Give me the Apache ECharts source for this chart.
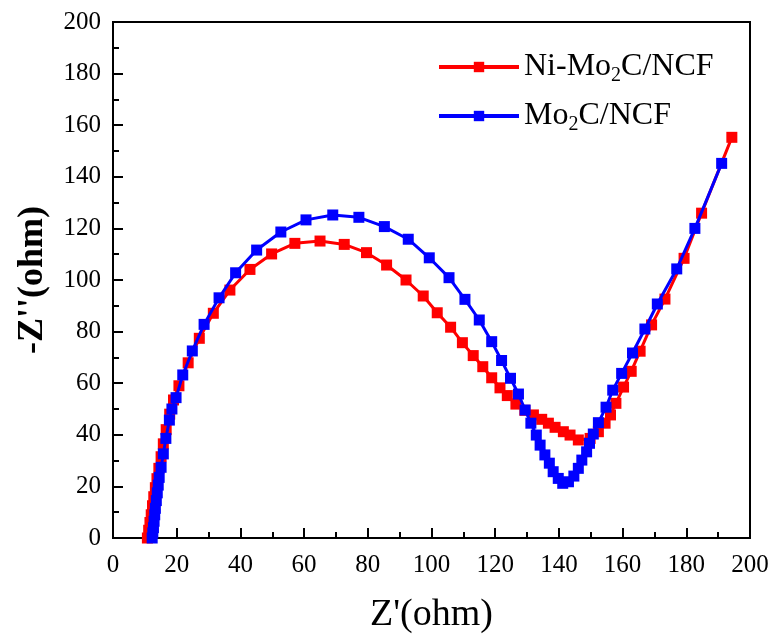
<!DOCTYPE html>
<html>
<head>
<meta charset="utf-8">
<script src="https://cdn.jsdelivr.net/npm/echarts@6/dist/echarts.min.js"></script>
<style>
html,body{margin:0;padding:0;background:#fff;}
#chart{width:776px;height:643px;}
</style>
</head>
<body>
<div id="chart"></div>
<script>
// Series names
const seriesNames = ['Ni-Mo2C/NCF', 'Mo2C/NCF'];
const seriesLabels = ['Ni-Mo{sub|2}C/NCF', 'Mo{sub|2}C/NCF'];
const seriesColors = ['#ff0000', '#0000ff'];

// Ni-Mo2C/NCF: [Z', -Z'']
const niMo2C = [
  [10.8,0],[11.2,3],[11.6,6],[12.0,9],[12.4,12.5],[12.8,16],[13.3,19.5],[13.8,23],
  [14.4,27],[15.1,31.5],[15.8,36.5],[16.7,42],[17.8,48],[19.0,53.5],[20.7,59],
  [23.6,67.9],[27.1,77.4],[31.5,87.1],[36.7,96.1],[43.0,104.1],[49.8,110.1],
  [57.1,114.2],[65.0,115.1],[72.6,113.8],[79.6,110.6],[85.9,105.8],[92.0,100.0],
  [97.4,93.8],[101.8,87.3],[106.0,81.7],[109.7,75.7],[113.1,70.7],[116.1,66.4],
  [118.9,62.1],[121.5,58.2],[123.8,55.2],[126.5,51.9],[129.3,49.5],[132.0,47.7],
  [134.6,46.0],[136.7,44.5],[138.8,42.9],[141.4,41.2],[143.5,39.9],[146.1,38.0],
  [149.8,38.6],[152.4,41.2],[154.5,44.5],[156.2,47.7],[157.9,52.2],[160.3,58.5],
  [162.7,64.6],[165.5,72.4],[169.1,82.6],[173.3,92.6],[179.3,108.4],[184.8,125.9],
  [194.3,155.3]
];

// Mo2C/NCF: [Z', -Z'']
const mo2C = [
  [12.3,0],[12.5,2],[12.7,4],[12.9,6.5],[13.1,9],[13.3,11.5],[13.6,14.5],[13.9,17.5],
  [14.2,20.5],[14.5,23.5],[15.1,27.4],[15.8,32.6],[16.6,38.6],[17.7,45.7],[18.5,50],
  [19.8,54.4],[21.9,63.2],[24.9,72.5],[28.6,82.8],[33.3,93.1],[38.5,102.8],[45.1,111.6],
  [52.7,118.6],[60.6,123.3],[69.0,125.2],[77.2,124.3],[85.2,120.7],[92.7,115.8],
  [99.3,108.6],[105.5,100.9],[110.5,92.5],[115.0,84.5],[118.9,76.1],[122.0,68.8],
  [124.8,61.9],[127.3,55.8],[129.4,49.6],[131.2,44.5],[132.9,39.9],[134.1,36.0],
  [135.6,32.2],[137.0,29.0],[138.2,25.7],[139.8,23.1],[141.2,21.2],[143.0,21.8],
  [144.7,24.0],[146.1,27.0],[147.2,30.2],[148.7,33.4],[149.6,36.7],[150.8,40.3],
  [152.4,44.7],[154.8,50.7],[156.9,57.3],[159.7,63.8],[163.1,71.7],[167.0,81.0],
  [170.9,90.7],[177.0,104.3],[182.7,120.0],[191.1,145.2]
];

// Axis settings
const xRange = [0, 200];
const yRange = [0, 200];
const tickStep = 20;
const xTitle = "Z'(ohm)";
const yTitle = "-Z''(ohm)";

const FONT = '"Liberation Serif", "Times New Roman", serif';

const chart = echarts.init(document.getElementById('chart'), null, {renderer: 'canvas'});

function axisCommon() {
  return {
    axisLine: {show: true, onZero: false, lineStyle: {color: '#000', width: 2}},
    axisTick: {show: true, inside: true, length: 10, lineStyle: {color: '#000', width: 2}},
    minorTick: {show: true, splitNumber: 2, length: 6, lineStyle: {color: '#000', width: 2}},
    splitLine: {show: false},
    axisLabel: {color: '#000', fontFamily: FONT, fontSize: 25}
  };
}

const option = {
  animation: false,
  backgroundColor: '#fff',
  grid: {left: 113, right: 26, top: 22, bottom: 105, show: true, borderColor: '#000', borderWidth: 2, backgroundColor: 'transparent'},
  legend: {
    left: 432, top: 46, orient: 'vertical',
    itemWidth: 80, itemHeight: 13, itemGap: 14,
    data: seriesNames,
    lineStyle: {width: 4},
    formatter: function (name) { return seriesLabels[seriesNames.indexOf(name)]; },
    textStyle: {
      color: '#000', fontFamily: FONT, fontSize: 32,
      rich: {sub: {fontFamily: FONT, fontSize: 20, color: '#000', padding: [18, 0, 0, 0]}}
    }
  },
  xAxis: Object.assign(axisCommon(), {
    type: 'value', min: xRange[0], max: xRange[1], interval: tickStep,
    name: xTitle, nameLocation: 'middle', nameGap: 58,
    nameTextStyle: {color: '#000', fontFamily: FONT, fontSize: 38},
    axisLabel: {color: '#000', fontFamily: FONT, fontSize: 25, margin: 15}
  }),
  yAxis: Object.assign(axisCommon(), {
    type: 'value', min: yRange[0], max: yRange[1], interval: tickStep,
    name: yTitle, nameLocation: 'middle', nameGap: 62, nameRotate: 90,
    nameTextStyle: {color: '#000', fontFamily: FONT, fontSize: 36, fontWeight: 'bold'},
    axisLabel: {color: '#000', fontFamily: FONT, fontSize: 25, margin: 12}
  }),
  series: [
    {
      name: seriesNames[0], type: 'line', data: niMo2C,
      symbol: 'rect', symbolSize: 11, showSymbol: true,
      lineStyle: {color: seriesColors[0], width: 3},
      itemStyle: {color: seriesColors[0]},
      z: 2
    },
    {
      name: seriesNames[1], type: 'line', data: mo2C,
      symbol: 'rect', symbolSize: 11, showSymbol: true,
      lineStyle: {color: seriesColors[1], width: 3},
      itemStyle: {color: seriesColors[1]},
      z: 3
    }
  ]
};

chart.setOption(option);
</script>
</body>
</html>
